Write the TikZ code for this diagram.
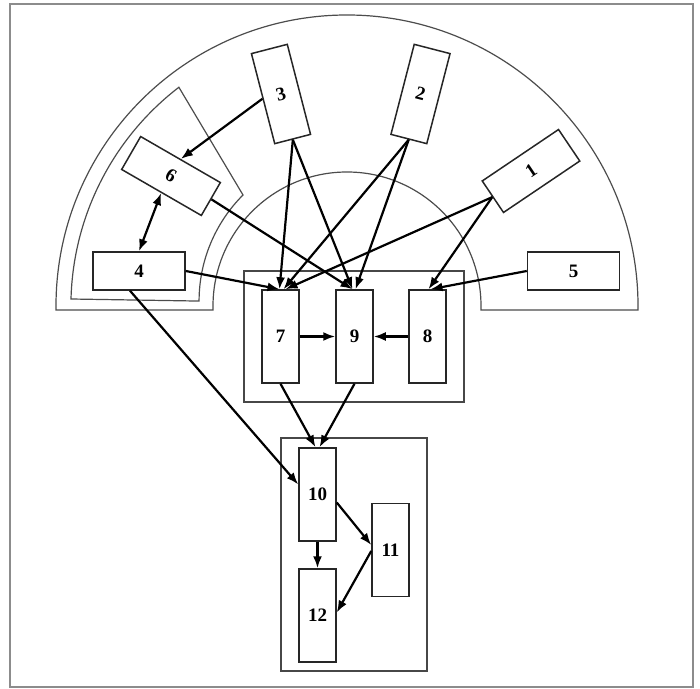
\documentclass[tikz,border=0pt]{standalone}
\usepackage{fontspec}
\setmainfont{Liberation Serif}
\usetikzlibrary{arrows.meta}
\begin{document}
\begin{tikzpicture}[x=1pt,y=1pt,
  box/.style={draw=black!85, line width=1.5pt, fill=white, inner sep=0pt, font=\fontsize{19}{21}\selectfont\bfseries},
  vbox/.style={box, minimum width=37pt, minimum height=93pt},
  hbox/.style={box, minimum width=92pt, minimum height=38pt},
  cont/.style={draw=black!72, line width=2.2pt},
  ring/.style={draw=black!70, line width=1.2pt},
  arr/.style={line width=2.2pt, -{Latex[length=12pt,width=9pt]}},
  darr/.style={line width=2.2pt, {Latex[length=12pt,width=9pt]}-{Latex[length=12pt,width=9pt]}},
]
\useasboundingbox (0,0) rectangle (700,688);
\draw[draw=black!45, line width=2.8pt] (10,1) rectangle (693,684);
% outer semi-annulus
\draw[ring] (56,378) -- (56,382) arc[start angle=180,end angle=0,radius=291] -- (638,378) -- (481,378) -- (481,382) arc[start angle=0,end angle=180,radius=134] -- (213,378) -- cycle;
% left segment
\draw[ring] (71,389) arc[start angle=178.5,end angle=127.5,radius=276] -- (243,493) arc[start angle=135,end angle=180,radius=150] -- cycle;
% containers
\draw[cont] (244,417) rectangle (464,286);
\draw[cont] (281,250) rectangle (427,17);
% boxes
\node[vbox, rotate=14.5] (n3) at (281,594) {3};
\node[vbox, rotate=-14.5] (n2) at (420.5,594) {2};
\node[hbox, rotate=34] (n1) at (531,517) {1};
\node[hbox, rotate=-30] (n6) at (171,512) {6};
\node[hbox] (n4) at (139,417) {4};
\node[hbox] (n5) at (573.5,417) {5};
\node[vbox] (n7) at (280.5,351.5) {7};
\node[vbox] (n9) at (354.5,351.5) {9};
\node[vbox] (n8) at (427.5,351.5) {8};
\node[vbox] (n10) at (317.5,193.5) {10};
\node[vbox] (n11) at (390.5,138) {11};
\node[vbox] (n12) at (317.5,72.5) {12};
% connectors
\draw[arr] (n3.west) -- (n6.north);
\draw[darr] (n6.south) -- (n4.north);
\draw[arr] (n3.south) -- ([xshift=-1]n7.north);
\draw[arr] (n3.south) -- ([xshift=-2]n9.north);
\draw[arr] (n6.east) -- ([xshift=-2]n9.north);
\draw[arr] (n4.east) -- ([xshift=-1]n7.north);
\draw[arr] (n2.south) -- ([xshift=3]n7.north);
\draw[arr] (n2.south) -- ([xshift=1]n9.north);
\draw[arr] (n1.west) -- ([xshift=5]n7.north);
\draw[arr] (n1.west) -- ([xshift=1]n8.north);
\draw[arr] (n5.west) -- ([xshift=3]n8.north);
\draw[arr] (n7.east) -- (n9.west);
\draw[arr] (n8.west) -- (n9.east);
\draw[arr] (n7.south) -- ([xshift=-2]n10.north);
\draw[arr] (n9.south) -- ([xshift=2]n10.north);
\draw[arr] ([xshift=-9]n4.south) -- ([yshift=10]n10.west);
\draw[arr] ([yshift=-8]n10.east) -- ([yshift=5]n11.west);
\draw[arr] ([yshift=-1]n11.west) -- ([yshift=3]n12.east);
\draw[arr] (n10.south) -- (n12.north);
\end{tikzpicture}
\end{document}
